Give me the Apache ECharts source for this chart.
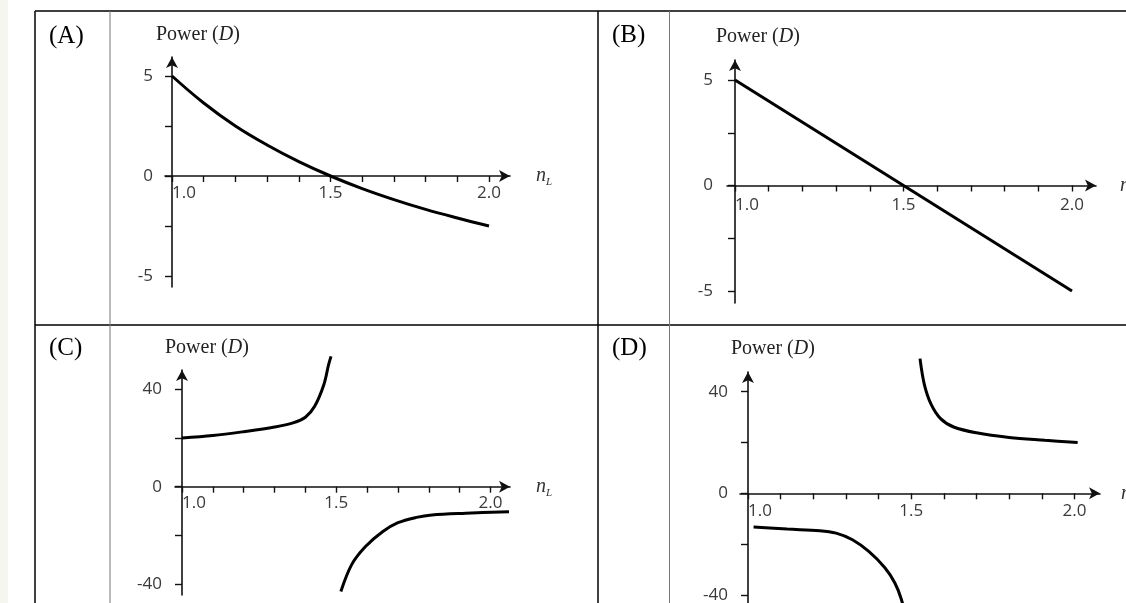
<!DOCTYPE html>
<html>
<head>
<meta charset="utf-8">
<script src="https://cdn.jsdelivr.net/npm/echarts@6.0.0/dist/echarts.min.js"></script>
<style>
  html, body { margin: 0; padding: 0; background: #ffffff; }
  #chart { width: 1126px; height: 603px; }
</style>
</head>
<body>
<div id="chart"></div>
<script>
// Tick positions and labelled ticks
const xTicks = [1.0, 1.1, 1.2, 1.3, 1.4, 1.5, 1.6, 1.7, 1.8, 1.9, 2.0];
const xTickLabels = [1.0, 1.5, 2.0];
const yTicksSmall = [-5, -2.5, 0, 2.5, 5];
const yTickLabelsSmall = [-5, 0, 5];
const yTicksLarge = [-40, -20, 0, 20, 40];
const yTickLabelsLarge = [-40, 0, 40];

// (A) lens power vs. lens index n_L
const nA = [1.0, 1.1, 1.2, 1.3, 1.4, 1.5, 1.6, 1.7, 1.8, 1.9, 2.0];
const powerA = [5, 3.65, 2.5, 1.55, 0.72, 0, -0.63, -1.18, -1.67, -2.1, -2.5];

// (B)
const nB = [1.0, 2.0];
const powerB = [5, -5];

// (C) two branches either side of n_L = 1.5
const nC1 = [1.0, 1.1, 1.2, 1.3, 1.36, 1.4, 1.43, 1.46, 1.475, 1.483];
const powerC1 = [20, 21, 22.6, 24.5, 26.2, 28.5, 33, 42, 50, 53.5];
const nC2 = [1.515, 1.55, 1.594, 1.65, 1.70, 1.76, 1.81, 1.92, 2.06];
const powerC2 = [-43, -32, -24.7, -18.5, -14.8, -12.6, -11.6, -10.9, -10.3];

// (D)
const nD1 = [1.527, 1.54, 1.56, 1.59, 1.63, 1.70, 1.80, 1.91, 2.01];
const powerD1 = [53, 43, 35.3, 29.4, 26.1, 23.8, 22, 20.9, 20];
const nD2 = [1.017, 1.12, 1.22, 1.27, 1.32, 1.37, 1.42, 1.45, 1.47, 1.485];
const powerD2 = [-13.3, -14.1, -14.7, -15.7, -18.3, -22.9, -29.4, -35.3, -41.8, -50];

const pairs = (xs, ys) => xs.map((x, i) => [x, ys[i]]);

// Panel geometry (pixels): x0/x2 = where n_L 1.0 / 2.0 sit, xs/xe = axis line ends,
// y0 = zero line, yRefPx = pixel of the reference value yRef, yt/yb = vertical axis ends
const panels = [
  { tag: '(A)', tagX: 49, tagY: 36, titleX: 156, titleY: 35,
    x0: 172, x2: 489, xs: 165, xe: 510, y0: 176, yRef: 5, yRefPx: 76, yt: 57, yb: 287,
    yLabelMargin: 19, xLabelMargin: 9, nameGap: 26, yTicks: yTicksSmall, yLabels: yTickLabelsSmall,
    series: [{ data: pairs(nA, powerA), smooth: 0.4 }] },
  { tag: '(B)', tagX: 612, tagY: 35, titleX: 716, titleY: 37,
    x0: 735, x2: 1072, xs: 727, xe: 1096, y0: 185.5, yRef: 5, yRefPx: 80, yt: 60, yb: 303,
    yLabelMargin: 22, xLabelMargin: 11, nameGap: 24, yTicks: yTicksSmall, yLabels: yTickLabelsSmall,
    series: [{ data: pairs(nB, powerB), smooth: false }] },
  { tag: '(C)', tagX: 49, tagY: 348, titleX: 165, titleY: 348,
    x0: 182, x2: 490.5, xs: 175, xe: 510, y0: 486.7, yRef: 40, yRefPx: 389.3, yt: 370, yb: 595,
    yLabelMargin: 20, xLabelMargin: 8, nameGap: 26, yTicks: yTicksLarge, yLabels: yTickLabelsLarge,
    series: [{ data: pairs(nC1, powerC1), smooth: 0.35 }, { data: pairs(nC2, powerC2), smooth: 0.35 }] },
  { tag: '(D)', tagX: 612, tagY: 348, titleX: 731, titleY: 349,
    x0: 748, x2: 1074.4, xs: 740, xe: 1100, y0: 493.3, yRef: 40, yRefPx: 391.7, yt: 372, yb: 640,
    yLabelMargin: 20, xLabelMargin: 9, nameGap: 21, yTicks: yTicksLarge, yLabels: yTickLabelsLarge,
    series: [{ data: pairs(nD1, powerD1), smooth: 0.35 }, { data: pairs(nD2, powerD2), smooth: 0.35 }] }
];

const axisColor = '#111111';
const labelStyle = { fontFamily: 'Open Sans', fontSize: 17, color: '#3a3a3a' };

const grid = [], xAxis = [], yAxis = [], series = [], graphic = [];

// Table frame
const frame = [
  { x1: 35, y1: 11, x2: 1126, y2: 11, c: '#000', w: 1.5 },
  { x1: 35, y1: 325, x2: 1126, y2: 325, c: '#000', w: 1.5 },
  { x1: 35, y1: 11, x2: 35, y2: 603, c: '#000', w: 1.5 },
  { x1: 598, y1: 11, x2: 598, y2: 603, c: '#000', w: 1.5 },
  { x1: 110, y1: 11, x2: 110, y2: 603, c: '#777', w: 1 },
  { x1: 669.5, y1: 11, x2: 669.5, y2: 603, c: '#777', w: 1 }
];
graphic.push({ type: 'rect', shape: { x: 0, y: 0, width: 8, height: 603 }, style: { fill: '#f6f6f0' }, z: -1 });
frame.forEach(f => graphic.push({
  type: 'line', shape: { x1: f.x1, y1: f.y1, x2: f.x2, y2: f.y2 },
  style: { stroke: f.c, lineWidth: f.w }
}));

panels.forEach((p, i) => {
  const pxPerX = p.x2 - p.x0;
  const pxPerY = (p.y0 - p.yRefPx) / p.yRef;
  grid.push({ left: p.xs, top: p.yt, width: p.xe - p.xs, height: p.yb - p.yt,
    containLabel: false, outerBoundsMode: 'none' });

  xAxis.push({
    type: 'value', gridIndex: i, position: 'bottom',
    min: 1 - (p.x0 - p.xs) / pxPerX,
    max: 1 + (p.xe - p.x0) / pxPerX,
    offset: -(p.yb - p.y0),
    name: '{n|n}{s|L}', nameLocation: 'end', nameGap: p.nameGap,
    nameTextStyle: {
      rich: {
        n: { fontFamily: 'Liberation Serif', fontStyle: 'italic', fontSize: 20, color: '#333' },
        s: { fontFamily: 'Liberation Serif', fontStyle: 'italic', fontSize: 11, color: '#333', padding: [12, 0, 0, 0] }
      }
    },
    axisLine: { show: true, onZero: false, symbol: ['none', 'arrow'], symbolSize: [9, 11],
      lineStyle: { color: axisColor, width: 1.6 } },
    axisTick: { show: true, customValues: xTicks, length: 6, lineStyle: { color: axisColor, width: 1.4 } },
    axisLabel: { customValues: xTickLabels, formatter: v => v.toFixed(1), alignMinLabel: 'left',
      margin: p.xLabelMargin, ...labelStyle },
    splitLine: { show: false }
  });

  yAxis.push({
    type: 'value', gridIndex: i, position: 'left',
    min: -(p.yb - p.y0) / pxPerY,
    max: (p.y0 - p.yt) / pxPerY,
    offset: -(p.x0 - p.xs),
    axisLine: { show: true, onZero: false, symbol: ['none', 'arrow'], symbolSize: [9, 11],
      lineStyle: { color: axisColor, width: 1.6 } },
    axisTick: { show: true, customValues: p.yTicks, length: 7, lineStyle: { color: axisColor, width: 1.4 } },
    axisLabel: { customValues: p.yLabels, formatter: v => String(v), margin: p.yLabelMargin, ...labelStyle },
    splitLine: { show: false }
  });

  p.series.forEach(s => series.push({
    type: 'line', xAxisIndex: i, yAxisIndex: i, data: s.data,
    smooth: s.smooth, showSymbol: false, clip: false,
    lineStyle: { color: '#000', width: 3 }, silent: true
  }));

  graphic.push({
    type: 'text', style: { text: p.tag, x: p.tagX, y: p.tagY, fill: '#000',
      font: '25px "Liberation Serif"', textVerticalAlign: 'middle' }
  });
  graphic.push({
    type: 'text', style: { text: 'Power ({i|D})', x: p.titleX, y: p.titleY, fill: '#222',
      font: '20px "Liberation Serif"', textVerticalAlign: 'middle',
      rich: { i: { fontStyle: 'italic', fontFamily: 'Liberation Serif', fontSize: 20, fill: '#222' } } }
  });
});

const chart = echarts.init(document.getElementById('chart'), null, { renderer: 'canvas' });
chart.setOption({
  backgroundColor: '#ffffff',
  animation: false,
  grid, xAxis, yAxis, series, graphic
});
</script>
</body>
</html>
